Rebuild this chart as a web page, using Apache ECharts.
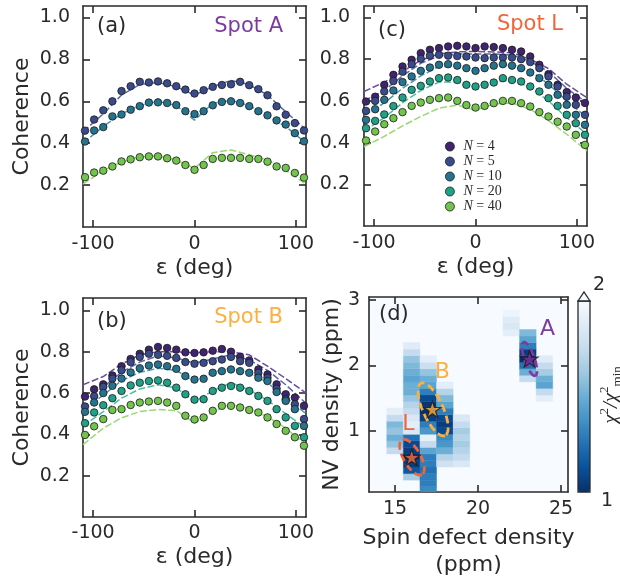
<!DOCTYPE html>
<html>
<head>
<meta charset="utf-8">
<script src="https://cdn.jsdelivr.net/npm/echarts@6/dist/echarts.min.js"></script>
<style>
html, body { margin: 0; padding: 0; background: #fff; }
#main { width: 620px; height: 582px; }
</style>
</head>
<body>
<div id="main"></div>
<script>
// measured angles (deg)
var eps = [-108,-99,-90,-81,-72,-63,-54,-45,-36,-27,-18,-9,0,9,18,27,36,45,54,63,72,81,90,99,108];
// angles of the model curves
var fitEps = [-110,-90,-72,-54,-36,-18,0,18,36,54,72,90,110];

// (a) Spot A : N = 5, 10, 40
var aN5  = [0.46,0.513,0.557,0.60,0.649,0.672,0.693,0.69,0.695,0.686,0.672,0.656,0.637,0.653,0.669,0.678,0.681,0.693,0.677,0.658,0.629,0.576,0.536,0.496,0.461];
var aN10 = [0.408,0.461,0.477,0.528,0.537,0.56,0.577,0.594,0.595,0.592,0.582,0.553,0.539,0.553,0.581,0.597,0.60,0.592,0.577,0.553,0.533,0.509,0.489,0.448,0.409];
var aN40 = [0.238,0.26,0.269,0.289,0.313,0.323,0.333,0.337,0.337,0.328,0.317,0.296,0.273,0.296,0.325,0.33,0.33,0.33,0.325,0.325,0.312,0.289,0.282,0.258,0.236];
var aFit5  = [0.455,0.54,0.63,0.68,0.69,0.67,0.63,0.67,0.70,0.68,0.63,0.55,0.465];
var aFit10 = [0.40,0.48,0.54,0.58,0.60,0.58,0.51,0.59,0.605,0.58,0.53,0.48,0.40];
var aFit40 = [0.205,0.27,0.31,0.335,0.34,0.32,0.28,0.355,0.368,0.345,0.32,0.27,0.205];

// (c) Spot L : N = 4, 5, 10, 20, 40
var cN4  = [0.597,0.62,0.677,0.725,0.765,0.797,0.829,0.845,0.853,0.861,0.864,0.861,0.853,0.861,0.858,0.853,0.845,0.837,0.813,0.773,0.728,0.677,0.642,0.616,0.59];
var cN5  = [0.552,0.60,0.645,0.695,0.74,0.776,0.802,0.817,0.821,0.817,0.815,0.813,0.808,0.805,0.808,0.808,0.808,0.80,0.786,0.757,0.717,0.669,0.62,0.581,0.533];
var cN10 = [0.509,0.56,0.605,0.65,0.69,0.717,0.744,0.76,0.773,0.776,0.769,0.757,0.744,0.757,0.769,0.776,0.769,0.757,0.736,0.709,0.677,0.629,0.581,0.533,0.485];
var cN20 = [0.469,0.504,0.535,0.575,0.616,0.653,0.672,0.693,0.709,0.712,0.70,0.677,0.669,0.677,0.688,0.709,0.70,0.693,0.669,0.645,0.613,0.576,0.533,0.493,0.437];
var cN40 = [0.41,0.453,0.488,0.517,0.546,0.576,0.592,0.605,0.613,0.616,0.60,0.58,0.568,0.576,0.589,0.60,0.60,0.589,0.573,0.546,0.525,0.50,0.477,0.437,0.389];
var cFit4  = [0.645,0.69,0.74,0.795,0.825,0.835,0.837,0.835,0.83,0.80,0.755,0.68,0.615];
var cFit5  = [0.60,0.65,0.72,0.78,0.815,0.825,0.825,0.825,0.82,0.79,0.74,0.66,0.59];
var cFit10 = [0.53,0.59,0.66,0.72,0.765,0.765,0.745,0.765,0.775,0.745,0.68,0.60,0.52];
var cFit20 = [0.455,0.52,0.59,0.65,0.69,0.69,0.665,0.69,0.70,0.665,0.60,0.52,0.44];
var cFit40 = [0.38,0.43,0.48,0.525,0.565,0.58,0.555,0.585,0.59,0.56,0.505,0.44,0.36];

// (b) Spot B : N = 4, 5, 10, 20, 40
var bN4  = [0.583,0.618,0.642,0.685,0.73,0.765,0.79,0.81,0.823,0.818,0.81,0.797,0.794,0.797,0.805,0.813,0.80,0.775,0.758,0.714,0.69,0.642,0.594,0.578,0.538];
var bN5  = [0.535,0.585,0.63,0.67,0.71,0.75,0.775,0.79,0.785,0.78,0.77,0.75,0.742,0.746,0.754,0.762,0.775,0.754,0.746,0.698,0.674,0.621,0.57,0.546,0.474];
var bN10 = [0.509,0.554,0.60,0.635,0.67,0.70,0.72,0.733,0.738,0.73,0.717,0.682,0.665,0.669,0.698,0.706,0.714,0.706,0.698,0.674,0.658,0.605,0.562,0.522,0.441];
var bN20 = [0.454,0.506,0.541,0.575,0.61,0.637,0.65,0.658,0.661,0.65,0.626,0.594,0.568,0.57,0.61,0.626,0.634,0.626,0.61,0.586,0.562,0.522,0.482,0.441,0.386];
var bN40 = [0.397,0.439,0.474,0.518,0.522,0.542,0.554,0.559,0.562,0.554,0.538,0.49,0.472,0.482,0.514,0.538,0.538,0.53,0.518,0.506,0.482,0.45,0.417,0.386,0.345];
var bFit4  = [0.64,0.68,0.74,0.785,0.80,0.80,0.795,0.80,0.80,0.785,0.73,0.67,0.60];
var bFit5  = [0.57,0.63,0.70,0.75,0.78,0.77,0.745,0.765,0.785,0.76,0.71,0.64,0.55];
var bFit10 = [0.52,0.59,0.66,0.70,0.72,0.71,0.655,0.70,0.72,0.70,0.65,0.58,0.50];
var bFit20 = [0.44,0.51,0.575,0.62,0.64,0.625,0.56,0.61,0.65,0.615,0.565,0.50,0.43];
var bFit40 = [0.35,0.43,0.48,0.51,0.52,0.515,0.455,0.51,0.545,0.525,0.485,0.43,0.35];

// (d) chi^2 / chi^2_min map, one column per spin defect density (ppm)
var hmX  = [15, 16, 17, 18, 19, 22, 23, 24];
var hmY0 = [0.7, 0.3, 0.1, 0.5, 0.5, 2.5, 1.8, 1.5];   // NV density of the lowest cell
var hmChi = [
    [1.75,1.6,1.5,1.6,1.55,1.75,1.9],
    [1.65,1.15,1.05,1.0,1.05,1.1,1.25,1.85,1.9,1.85,1.75,1.7,1.6,1.5,1.5,1.45,1.5,1.55,1.6,1.75,1.88],
    [1.35,1.3,1.3,1.25,1.3,1.3,1.45,1.75,1.92,1.4,1.3,1.05,1.0,1.02,1.1,1.3,1.45,1.5,1.6,1.78,1.9],
    [1.8,1.7,1.5,1.4,1.35,1.1,1.05,1.1,1.3,1.45,1.55,1.7,1.9],
    [1.85,1.75,1.7,1.65,1.7,1.65,1.75,1.85],
    [1.9,1.85,1.88,1.95],
    [1.75,1.5,1.25,1.0,1.05,1.3,1.45,1.55],
    [1.9,1.75,1.45,1.5,1.65,1.75,1.88]
];
// best fits (stars), uncertainty ellipses and spot letters
var spotName = ['L', 'B', 'A'];
var starX = [16.0, 17.25, 23.1];
var starY = [0.6, 1.33, 2.1];
var ellCx = [16.02, 17.29, 23.1];
var ellCy = [0.60, 1.33, 2.1];
var ellU  = [[0.60, -0.265], [0.72, -0.40], [0.35, -0.255]];
var ellV  = [[-0.44, -0.065], [-0.55, -0.064], [-0.283, -0.025]];
var labX  = [15.8, 17.85, 24.18];
var labY  = [1.11, 1.9, 2.56];

var FONT = 'DejaVu Sans';
var INK = '#2a2a2a';
var spotCol = { L: '#f2643a', B: '#fbb040', A: '#7b3c9e' };
var starCol = { L: '#f46a3c', B: '#fbb03b', A: '#7d2f9e' };
var colN = { 4: '#40246f', 5: '#3a4b8c', 10: '#25738e', 20: '#20a087', 40: '#72c44e' };
var fitCol = { 4: '#6a4c9c', 5: '#5d6aaa', 10: '#4c97ad', 20: '#4dbd9f', 40: '#9bd872' };
var blues = ['#08306b','#08519c','#2171b5','#4292c6','#6baed6','#9ecae1','#c6dbef','#deebf7','#f7fbff'];

function pairs(x, y) { return x.map(function (v, i) { return [v, y[i]]; }); }

var grids = [
    { left: 83, top: 6, width: 223, height: 221 },    // (a)
    { left: 364, top: 6, width: 223, height: 220 },   // (c)
    { left: 83, top: 298, width: 223, height: 219 },  // (b)
    { left: 369, top: 297, width: 199, height: 195, show: true, backgroundColor: '#f7fbff', borderWidth: 0 } // (d)
];
grids.forEach(function (g) { g.outerBoundsMode = 'none'; });

var lineSt = { color: INK, width: 1.6 };
function xAx(gi, min, max, ticks, fmt, name, nameGap, labMargin) {
    var base = {
        gridIndex: gi, type: 'value', min: min, max: max,
        axisLine: { show: true, onZero: false, lineStyle: lineSt },
        axisTick: { show: true, inside: true, length: 7, customValues: ticks, lineStyle: lineSt },
        splitLine: { show: false }
    };
    var bottom = Object.assign({}, base, {
        position: 'bottom',
        axisLabel: { customValues: ticks, formatter: fmt, color: INK, fontSize: 19, fontFamily: FONT, margin: labMargin },
        name: name, nameLocation: 'middle', nameGap: nameGap,
        nameTextStyle: { color: INK, fontSize: 22, fontFamily: FONT, lineHeight: 27 }
    });
    var top = Object.assign({}, base, { position: 'top', axisLabel: { show: false } });
    return [bottom, top];
}
function yAx(gi, min, max, ticks, fmt, name, nameGap, labMargin) {
    var base = {
        gridIndex: gi, type: 'value', min: min, max: max,
        axisLine: { show: true, onZero: false, lineStyle: lineSt },
        axisTick: { show: true, inside: true, length: 7, customValues: ticks, lineStyle: lineSt },
        splitLine: { show: false }
    };
    var left = Object.assign({}, base, {
        position: 'left',
        axisLabel: { customValues: ticks, formatter: fmt, color: INK, fontSize: 19, fontFamily: FONT, margin: labMargin },
        name: name, nameLocation: 'middle', nameGap: nameGap,
        nameTextStyle: { color: INK, fontSize: 22, fontFamily: FONT }
    });
    var right = Object.assign({}, base, { position: 'right', axisLabel: { show: false } });
    return [left, right];
}

var cohTicks = [0.2, 0.4, 0.6, 0.8, 1.0];
var epsTicks = [-100, 0, 100];
function f1(v) { return v.toFixed(1); }
function f0(v) { return String(Math.round(v)); }

var xAxes = [].concat(
    xAx(0, -110, 110, epsTicks, f0, 'ε (deg)', 27, 8),
    xAx(1, -110, 110, epsTicks, f0, 'ε (deg)', 27, 8),
    xAx(2, -110, 110, epsTicks, f0, 'ε (deg)', 27, 7),
    xAx(3, 13.43, 25.42, [15, 20, 25], f0, 'Spin defect density\n(ppm)', 33, 8)
);
var yAxes = [].concat(
    yAx(0, 0, 1.055, cohTicks, f1, 'Coherence', 50, 13),
    yAx(1, 0, 1.055, cohTicks, f1, '', 50, 14),
    yAx(2, 0, 1.06, cohTicks, f1, 'Coherence', 50, 13),
    yAx(3, 0.069, 3.046, [1, 2, 3], f0, 'NV density (ppm)', 26, 9)
);

var series = [];
function addPanel(gi, ns, ys, fits, legendNames) {
    ns.forEach(function (n, k) {
        series.push({
            type: 'line', xAxisIndex: 2 * gi, yAxisIndex: 2 * gi,
            data: pairs(fitEps, fits[k]), symbol: 'none', silent: true, z: 2,
            lineStyle: { color: fitCol[n], width: 1.5, type: [7, 2.5] }
        });
    });
    ns.forEach(function (n, k) {
        series.push({
            name: legendNames ? 'N=' + n : 'p' + gi + '-' + n,
            type: 'scatter', xAxisIndex: 2 * gi, yAxisIndex: 2 * gi,
            data: pairs(eps, ys[k]), symbol: 'circle', symbolSize: 7.5, z: 3,
            itemStyle: { color: colN[n], borderColor: '#1a1a1a', borderWidth: 0.8, opacity: 1 }
        });
    });
}
addPanel(0, [5, 10, 40], [aN5, aN10, aN40], [aFit5, aFit10, aFit40], false);
addPanel(1, [4, 5, 10, 20, 40], [cN4, cN5, cN10, cN20, cN40], [cFit4, cFit5, cFit10, cFit20, cFit40], true);
addPanel(2, [4, 5, 10, 20, 40], [bN4, bN5, bN10, bN20, bN40], [bFit4, bFit5, bFit10, bFit20, bFit40], false);

// heat map cells
var heatData = [];
hmX.forEach(function (x, c) {
    hmChi[c].forEach(function (v, r) {
        heatData.push([x, +(hmY0[c] + 0.1 * r).toFixed(2), v]);
    });
});
var heatIdx = series.length;
series.push({
    type: 'custom', xAxisIndex: 6, yAxisIndex: 6, data: heatData, clip: true, z: 1, silent: true,
    renderItem: function (params, api) {
        var p0 = api.coord([api.value(0) - 0.5, api.value(1) + 0.05]);
        var p1 = api.coord([api.value(0) + 0.5, api.value(1) - 0.05]);
        var c = api.visual('color');
        return {
            type: 'rect',
            shape: { x: p0[0], y: p0[1], width: p1[0] - p0[0], height: p1[1] - p0[1] },
            style: { fill: c, stroke: c, lineWidth: 0.4 }
        };
    }
});

// dashed uncertainty ellipses
series.push({
    type: 'custom', xAxisIndex: 6, yAxisIndex: 6, z: 4, silent: true, clip: true,
    data: ellCx.map(function (x, i) { return [x, ellCy[i], ellU[i][0], ellU[i][1], ellV[i][0], ellV[i][1]]; }),
    renderItem: function (params, api) {
        var i = params.dataIndex, pts = [];
        for (var k = 0; k <= 90; k++) {
            var t = k / 90 * 2 * Math.PI;
            pts.push(api.coord([
                api.value(0) + api.value(2) * Math.cos(t) + api.value(4) * Math.sin(t),
                api.value(1) + api.value(3) * Math.cos(t) + api.value(5) * Math.sin(t)
            ]));
        }
        return {
            type: 'polyline', shape: { points: pts },
            style: { stroke: spotCol[spotName[i]], lineWidth: 2.8, lineDash: [8, 4], fill: null }
        };
    }
});

// best-fit stars
series.push({
    type: 'scatter', xAxisIndex: 6, yAxisIndex: 6, z: 5, silent: true,
    symbol: 'path://M50,0 L61.2,34.5 L97.6,34.5 L68.2,55.9 L79.4,90.5 L50,69.1 L20.6,90.5 L31.8,55.9 L2.4,34.5 L38.8,34.5 Z',
    symbolSize: 17, symbolKeepAspect: true,
    data: starX.map(function (x, i) {
        return { value: [x, starY[i]], itemStyle: { color: starCol[spotName[i]], borderColor: '#1a1a1a', borderWidth: 1.2 } };
    })
});

// spot letters
series.push({
    type: 'custom', xAxisIndex: 6, yAxisIndex: 6, z: 6, silent: true,
    data: labX.map(function (x, i) { return [x, labY[i]]; }),
    renderItem: function (params, api) {
        var p = api.coord([api.value(0), api.value(1)]);
        var s = spotName[params.dataIndex];
        return {
            type: 'text', x: p[0], y: p[1],
            style: { text: s, fill: spotCol[s], font: '22px "' + FONT + '"', textAlign: 'center', textVerticalAlign: 'middle' }
        };
    }
});

function txt(x, y, s, color, align) {
    return { type: 'text', x: x, y: y, z: 50,
        style: { text: s, fill: color, font: '21px "' + FONT + '"', textAlign: align, textVerticalAlign: 'middle' } };
}

var option = {
    animation: false,
    backgroundColor: '#fff',
    grid: grids,
    xAxis: xAxes,
    yAxis: yAxes,
    legend: {
        data: ['N=4', 'N=5', 'N=10', 'N=20', 'N=40'],
        orient: 'vertical', left: 445, top: 139, padding: 0,
        itemWidth: 9, itemHeight: 9, itemGap: 0, selectedMode: false,
        icon: 'circle',
        itemStyle: { borderColor: '#1a1a1a', borderWidth: 0.8 },
        formatter: function (name) { return '{i|N} = ' + name.slice(2); },
        textStyle: {
            color: INK, fontFamily: 'Liberation Serif', fontSize: 14, lineHeight: 15, padding: [0, 0, 0, 4],
            rich: { i: { fontFamily: 'Liberation Serif', fontStyle: 'italic', fontSize: 14, lineHeight: 15, color: INK } }
        }
    },
    visualMap: {
        type: 'continuous', seriesIndex: heatIdx, dimension: 2,
        min: 1, max: 2, calculable: false, hoverLink: false,
        left: 578, top: 301, itemWidth: 12, itemHeight: 191, padding: 0,
        text: null, showLabel: false,
        inRange: { color: blues }
    },
    graphic: [
        txt(97, 27, '(a)', INK, 'left'),
        txt(283, 27, 'Spot A', spotCol.A, 'right'),
        txt(378, 31, '(c)', INK, 'left'),
        txt(563, 25, 'Spot L', spotCol.L, 'right'),
        txt(97, 322, '(b)', INK, 'left'),
        txt(283, 318, 'Spot B', spotCol.B, 'right'),
        txt(379, 315, '(d)', INK, 'left'),
        { type: 'rect', z: 60, shape: { x: 578, y: 301, width: 12, height: 191 },
          style: { fill: null, stroke: INK, lineWidth: 1.3 } },
        { type: 'polygon', z: 60, shape: { points: [[578, 301], [584, 292], [590, 301]] },
          style: { fill: '#f7fbff', stroke: INK, lineWidth: 1.3 } },
        { type: 'text', x: 593, y: 285, z: 60,
          style: { text: '2', fill: INK, font: '19px "' + FONT + '"', textAlign: 'left', textVerticalAlign: 'middle' } },
        { type: 'text', x: 601, y: 501, z: 60,
          style: { text: '1', fill: INK, font: '19px "' + FONT + '"', textAlign: 'left', textVerticalAlign: 'middle' } },
        { type: 'text', x: 611, y: 395, z: 60, rotation: Math.PI / 2,
          style: {
            text: '{m|χ}{s|2}{m|/χ}{s|2}{b|min}', textAlign: 'center', textVerticalAlign: 'middle',
            rich: {
                m: { fontFamily: 'Liberation Serif', fontStyle: 'italic', fontSize: 21, lineHeight: 26, fill: INK, verticalAlign: 'middle' },
                s: { fontFamily: 'Liberation Serif', fontSize: 13, lineHeight: 26, fill: INK, verticalAlign: 'top' },
                b: { fontFamily: 'Liberation Serif', fontSize: 13, lineHeight: 26, fill: INK, verticalAlign: 'bottom' }
            }
          } }
    ],
    series: series
};

var chart = echarts.init(document.getElementById('main'), null, { renderer: 'canvas' });
chart.setOption(option);
</script>
</body>
</html>
